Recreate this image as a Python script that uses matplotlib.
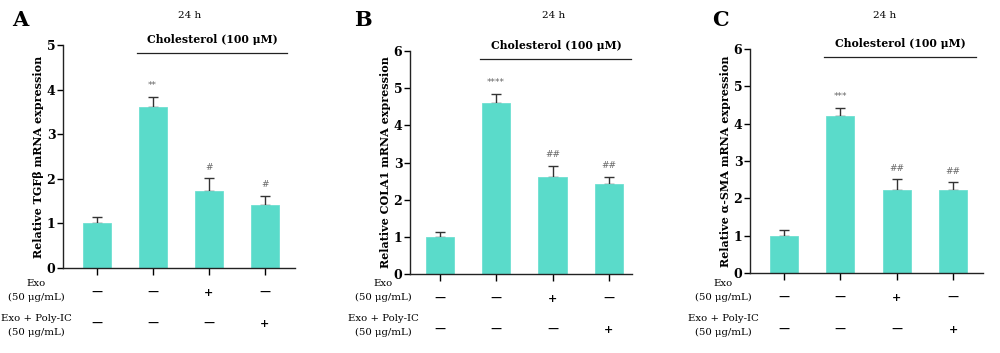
import numpy as np
import matplotlib.pyplot as plt

plt.rcParams['font.family'] = ['DejaVu Serif']

# data
groups = ['Control', 'Cholesterol', 'Chol + Exo', 'Chol + Exo + Poly-IC']
tgfb_mean = [1.0, 3.60, 1.73, 1.42]
tgfb_err = [0.14, 0.23, 0.28, 0.20]
tgfb_sig = ['', '**', '#', '#']

col1a1_mean = [1.0, 4.61, 2.62, 2.41]
col1a1_err = [0.14, 0.23, 0.29, 0.21]
col1a1_sig = ['', '****', '##', '##']

asma_mean = [1.0, 4.20, 2.23, 2.21]
asma_err = [0.15, 0.23, 0.28, 0.22]
asma_sig = ['', '***', '##', '##']

exo_row = ['—', '—', '+', '—']
polyic_row = ['—', '—', '—', '+']

bar_color = '#5ADBCA'
err_color = '#333333'

fig = plt.figure(figsize=(10, 3.53), dpi=100)

panels = [
    # letter, axes rect, means, errs, sig, ylabel, ymax, xlim, letter x, "24 h" x
    ('A', [0.063, 0.2408, 0.232, 0.6317], tgfb_mean, tgfb_err, tgfb_sig,
     'Relative TGFβ mRNA expression', 5, (-0.6, 3.54), 0.020, 0.19),
    ('B', [0.410, 0.2238, 0.222, 0.6317], col1a1_mean, col1a1_err, col1a1_sig,
     'Relative COLA1 mRNA expression', 6, (-0.53, 3.41), 0.363, 0.554),
    ('C', [0.750, 0.2266, 0.233, 0.6346], asma_mean, asma_err, asma_sig,
     'Relative α-SMA mRNA expression', 6, (-0.6, 3.53), 0.720, 0.885),
]

x = np.arange(len(groups))

for letter, rect, means, errs, sig, ylabel, ymax, xlim, lx, hx in panels:
    ax = fig.add_axes(rect)
    ax.bar(x, means, width=0.5, color=bar_color, edgecolor='#6EE0D2', linewidth=0.6, zorder=2)
    ax.errorbar(x, means, yerr=[np.zeros(4), errs], fmt='none', ecolor=err_color,
                elinewidth=1.0, capsize=3.3, capthick=1.0, zorder=1)
    for xi, m, e, s in zip(x, means, errs, sig):
        if s:
            ax.text(xi, m + e + ymax * 0.03, s, ha='center', va='bottom',
                    fontsize=6.5, color='#666666', family='DejaVu Sans')

    ax.set_xlim(*xlim)
    ax.set_ylim(0, ymax)
    ax.set_yticks(range(ymax + 1))
    ax.set_xticks(x)
    ax.set_xticklabels([])
    ax.tick_params(axis='y', direction='out', length=4, width=1, labelsize=9, pad=1.5)
    ax.tick_params(axis='x', direction='out', length=5, width=1)
    for lbl in ax.get_yticklabels():
        lbl.set_fontweight('bold')
    for side in ['top', 'right']:
        ax.spines[side].set_visible(False)
    for side in ['left', 'bottom']:
        ax.spines[side].set_linewidth(1.0)
        ax.spines[side].set_color('#222222')
    ax.set_ylabel(ylabel, fontsize=8, fontweight='bold', labelpad=2)

    # cholesterol bracket
    ly = ymax * 0.965
    ax.plot([0.72, 3.4], [ly, ly], color='#222222', lw=0.9, clip_on=False)
    ax.text(2.06, ly + ymax * 0.035, 'Cholesterol (100 μM)', ha='center', va='bottom',
            fontsize=7.8, fontweight='bold', clip_on=False)

    # treatment rows
    for xi, s1, s2 in zip(x, exo_row, polyic_row):
        ax.text(xi, -0.11, s1, transform=ax.get_xaxis_transform(), ha='center', va='center',
                fontsize=8, fontweight='bold')
        ax.text(xi, -0.25, s2, transform=ax.get_xaxis_transform(), ha='center', va='center',
                fontsize=8, fontweight='bold')
    lab_x = rect[0] - 0.027
    fig.text(lab_x, 0.198, 'Exo', ha='center', va='center', fontsize=7.3)
    fig.text(lab_x, 0.156, '(50 μg/mL)', ha='center', va='center', fontsize=7.3)
    fig.text(lab_x, 0.099, 'Exo + Poly-IC', ha='center', va='center', fontsize=7.3)
    fig.text(lab_x, 0.058, '(50 μg/mL)', ha='center', va='center', fontsize=7.3)

    fig.text(lx, 0.943, letter, ha='center', va='center', fontsize=15, fontweight='bold')
    fig.text(hx, 0.955, '24 h', ha='center', va='center', fontsize=7.5)

fig.savefig('out.png', dpi=100)
